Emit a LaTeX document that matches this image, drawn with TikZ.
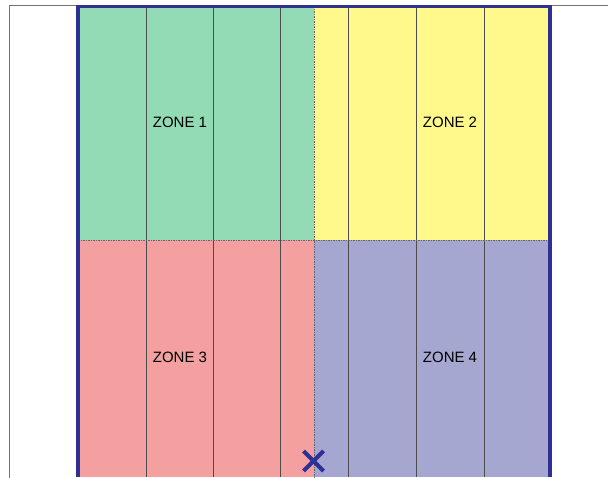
\documentclass[tikz,border=0pt]{standalone}
\usepackage{fontspec}
\setmainfont{Liberation Sans}
\usetikzlibrary{positioning}
\definecolor{z1}{HTML}{93DBB4}
\definecolor{z2}{HTML}{FFF98C}
\definecolor{z3}{HTML}{F4A0A0}
\definecolor{z4}{HTML}{A6A7D0}
\definecolor{marco}{HTML}{2E3192}

\begin{document}
\begin{tikzpicture}[x=1pt, y=-1pt,
  etiqueta/.style={font=\fontsize{15}{17}\selectfont, text=black, inner sep=0pt},
  raya/.style={black!70, line width=1pt},
  borde/.style={black!60, dash pattern=on 1.5pt off 1pt, line width=0.9pt},
]
  \useasboundingbox (0,0) rectangle (608,478);

  % fondos de cada zona
  \fill[z1] (78,6.5) rectangle (314,240);
  \fill[z2] (314,6.5) rectangle (550,240);
  \fill[z3] (78,240) rectangle (314,477);
  \fill[z4] (314,240) rectangle (550,477);

  % carriles
  \foreach \x in {146,213,280,348,416,484}
    \draw[raya] (\x,6.5) -- (\x,477);

  % divisiones entre zonas
  \draw[borde] (314,6.5) -- (314,477);
  \draw[borde] (78,240) -- (550,240);

  % marco exterior y marco azul
  \draw[black!55, line width=0.9pt] (9,478) -- (9,5) -- (608,5);
  \draw[marco, line width=3.5pt] (78,477) -- (78,6.5) -- (550,6.5) -- (550,477);

  \node[etiqueta] (zona1) at (180,122) {ZONE 1};
  \node[etiqueta] (zona2) at (450,122) {ZONE 2};
  \node[etiqueta] (zona3) at (180,357) {ZONE 3};
  \node[etiqueta] (zona4) at (450,357) {ZONE 4};

  % marca de la salida
  \draw[marco, line width=4pt] (303.5,451) -- (323.5,471) (303.5,471) -- (323.5,451);
\end{tikzpicture}
\end{document}
